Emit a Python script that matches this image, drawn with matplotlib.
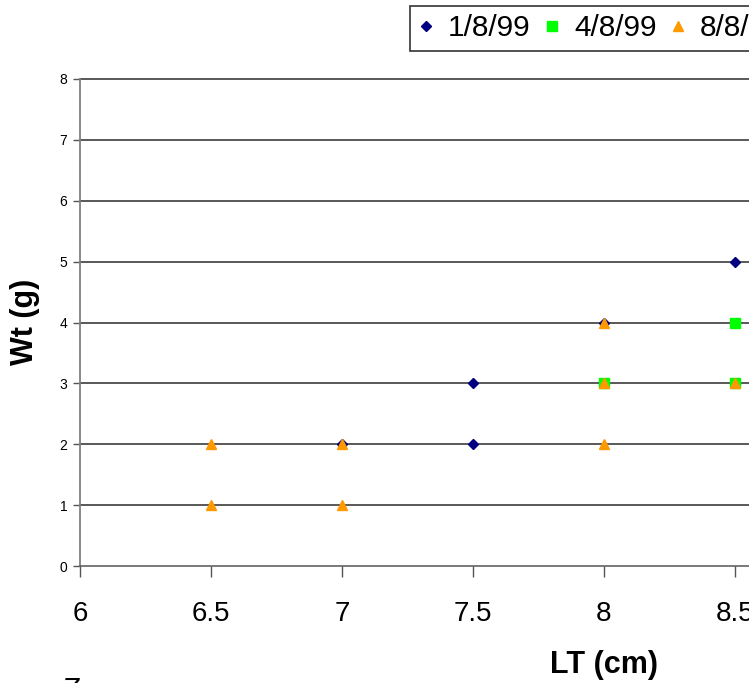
import matplotlib.pyplot as plt

plt.rcParams["font.family"] = ["Liberation Sans", "DejaVu Sans"]

# data
lt_jan = [7.0, 7.5, 7.5, 8.0, 8.5]
wt_jan = [2, 3, 2, 4, 5]
lt_apr = [8.0, 8.5, 8.5]
wt_apr = [3, 4, 3]
lt_aug = [6.5, 6.5, 7.0, 7.0, 8.0, 8.0, 8.0, 8.5]
wt_aug = [2, 1, 2, 1, 4, 3, 2, 3]
x_ticks = [6, 6.5, 7, 7.5, 8, 8.5, 9]
y_ticks = [0, 1, 2, 3, 4, 5, 6, 7, 8]

W, H = 749, 683
fig = plt.figure(figsize=(W / 100, H / 100), dpi=100)
# the chart is cropped on the right, so the axes run past the figure edge
ax = fig.add_axes([80 / W, (H - 566) / H, (866 - 80) / W, (566 - 79) / H])
ax.set_xlim(6, 9)
ax.set_ylim(0, 8)

for y in y_ticks[1:]:
    ax.axhline(y, color="#2b2b2b", lw=1.1, zorder=1, clip_on=False)

ax.plot(lt_jan, wt_jan, ls="none", marker="D", ms=5.5, color="#000080",
        label="1/8/99", zorder=3)
ax.plot(lt_apr, wt_apr, ls="none", marker="s", ms=7, color="#00FF00",
        label="4/8/99", zorder=4)
ax.plot(lt_aug, wt_aug, ls="none", marker="^", ms=7.5, color="#FF9900",
        label="8/8/99", zorder=5)

ax.set_xticks(x_ticks)
ax.set_xticklabels([f"{v:g}" for v in x_ticks], fontsize=20)
ax.set_yticks(y_ticks)
ax.set_yticklabels([str(v) for v in y_ticks], fontsize=10)
ax.tick_params(axis="x", direction="out", length=8, width=1, color="#555555", pad=17)
ax.tick_params(axis="y", direction="out", length=5, width=1, color="#555555", pad=4)

for side in ["top", "right"]:
    ax.spines[side].set_visible(False)
ax.spines["left"].set_color("#808080")
ax.spines["left"].set_linewidth(1.3)
ax.spines["bottom"].set_color("#555555")
ax.spines["bottom"].set_linewidth(1.1)

fig.text(25 / W, (H - 322) / H, "Wt (g)", fontsize=22, fontweight="bold",
         rotation=90, ha="center", va="center")
fig.text(604 / W, (H - 665) / H, "LT (cm)", fontsize=22, fontweight="bold",
         ha="center", va="center")

leg = fig.legend(loc="upper left", bbox_to_anchor=(410 / W, 1 - 6 / H),
                 ncol=3, fontsize=21.5, frameon=True, fancybox=False,
                 edgecolor="black", borderpad=0.28, handlelength=0.5,
                 handletextpad=0.5, columnspacing=0.45, borderaxespad=0,
                 markerscale=1.0)
leg.get_frame().set_linewidth(1.2)

# fragment of the next chart showing at the bottom edge
fig.text(70 / W, (H - 677) / H, "7", fontsize=22, style="italic",
         ha="center", va="top")

fig.savefig("out.png", dpi=100)
